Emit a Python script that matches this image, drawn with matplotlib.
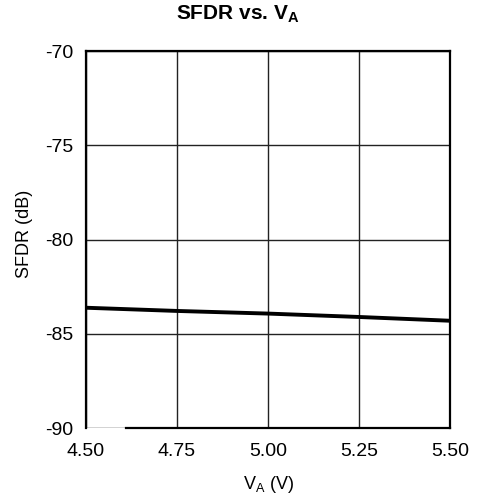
import matplotlib.pyplot as plt
import numpy as np

plt.rcParams['font.family'] = ['Liberation Sans', 'DejaVu Sans']
plt.rcParams['mathtext.fontset'] = 'custom'
plt.rcParams['mathtext.rm'] = 'Liberation Sans'
plt.rcParams['mathtext.bf'] = 'Liberation Sans:bold'

# dados
va = [4.50, 4.75, 5.00, 5.25, 5.50]
sfdr = [-83.62, -83.79, -83.93, -84.11, -84.31]

xticks = [4.50, 4.75, 5.00, 5.25, 5.50]
yticks = [-90, -85, -80, -75, -70]

fig = plt.figure(figsize=(4.84, 5.01), dpi=100)
ax = fig.add_axes([86 / 484, 1 - 428 / 501, 364 / 484, 377 / 501])

ax.plot(va, sfdr, color='black', linewidth=2.8)

ax.set_xlim(4.5, 5.5)
ax.set_ylim(-90, -70)
ax.set_xticks(xticks)
ax.set_xticklabels([f'{v:.2f}' for v in xticks])
ax.set_yticks(yticks)
ax.set_yticklabels([str(v) for v in yticks])
ax.tick_params(length=0, labelsize=14, colors='black')
ax.tick_params(axis='x', pad=11)
ax.tick_params(axis='y', pad=9)

ax.grid(True, color='#222222', linewidth=1.0)
for s in ax.spines.values():
    s.set_linewidth(1.6)
# falha na borda inferior, como no original
ax.spines['bottom'].set_bounds(4.61, 5.5)

fig.text(238 / 484, 1 - 3 / 501, 'SFDR vs. V$_\\mathbf{A}$', fontsize=15,
         fontweight='bold', ha='center', va='top')
ax.set_xlabel('V$_\\mathrm{A}$ (V)', fontsize=13, labelpad=10)
ax.set_ylabel('SFDR (dB)', fontsize=13)
ax.yaxis.set_label_coords(-0.145, 0.515)

fig.savefig('out.png', dpi=100)
